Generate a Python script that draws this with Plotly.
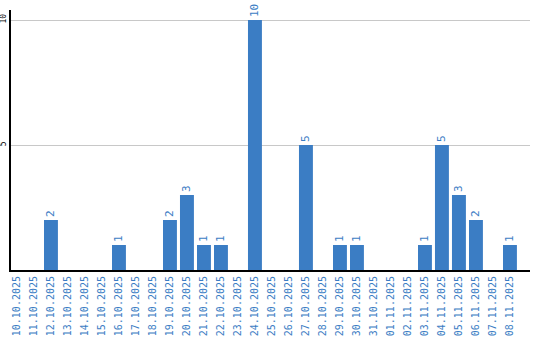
import plotly.graph_objects as go

dates = ["10.10.2025","11.10.2025","12.10.2025","13.10.2025","14.10.2025","15.10.2025",
         "16.10.2025","17.10.2025","18.10.2025","19.10.2025","20.10.2025","21.10.2025",
         "22.10.2025","23.10.2025","24.10.2025","25.10.2025","26.10.2025","27.10.2025",
         "28.10.2025","29.10.2025","30.10.2025","31.10.2025","01.11.2025","02.11.2025",
         "03.11.2025","04.11.2025","05.11.2025","06.11.2025","07.11.2025","08.11.2025"]
counts = [0,0,2,0,0,0,1,0,0,2,3,1,1,0,10,0,0,5,0,1,1,0,0,0,1,5,3,2,0,1]
labels = [str(v) if v else "" for v in counts]
y_ticks = [5, 10]

blue = "#3b7dc4"
fig = go.Figure(go.Bar(
    x=dates, y=counts, text=labels, textposition="outside", textangle=-90,
    textfont=dict(family="DejaVu Sans Mono", size=11, color=blue),
    marker=dict(color=blue, line=dict(width=0)), cliponaxis=False,
))
fig.update_layout(
    width=540, height=340, margin=dict(l=11, r=10, t=10, b=70),
    plot_bgcolor="white", paper_bgcolor="white", bargap=0.18, showlegend=False,
    xaxis=dict(type="category", range=[-0.35, 30.18], tickangle=-90, showgrid=False,
               automargin=False,
               tickfont=dict(family="DejaVu Sans Mono", size=10, color=blue),
               showline=True, linecolor="black", linewidth=2, ticks="", ticklen=0),
    yaxis=dict(range=[0, 10.4], tickvals=y_ticks, tickangle=-90, showgrid=True,
               automargin=False,
               gridcolor="#c8c8c8", gridwidth=1, zeroline=False,
               tickfont=dict(family="DejaVu Sans Mono", size=8, color="black"),
               showline=True, linecolor="black", linewidth=2, ticks="", ticklen=0),
)
fig.write_html("out.html")
